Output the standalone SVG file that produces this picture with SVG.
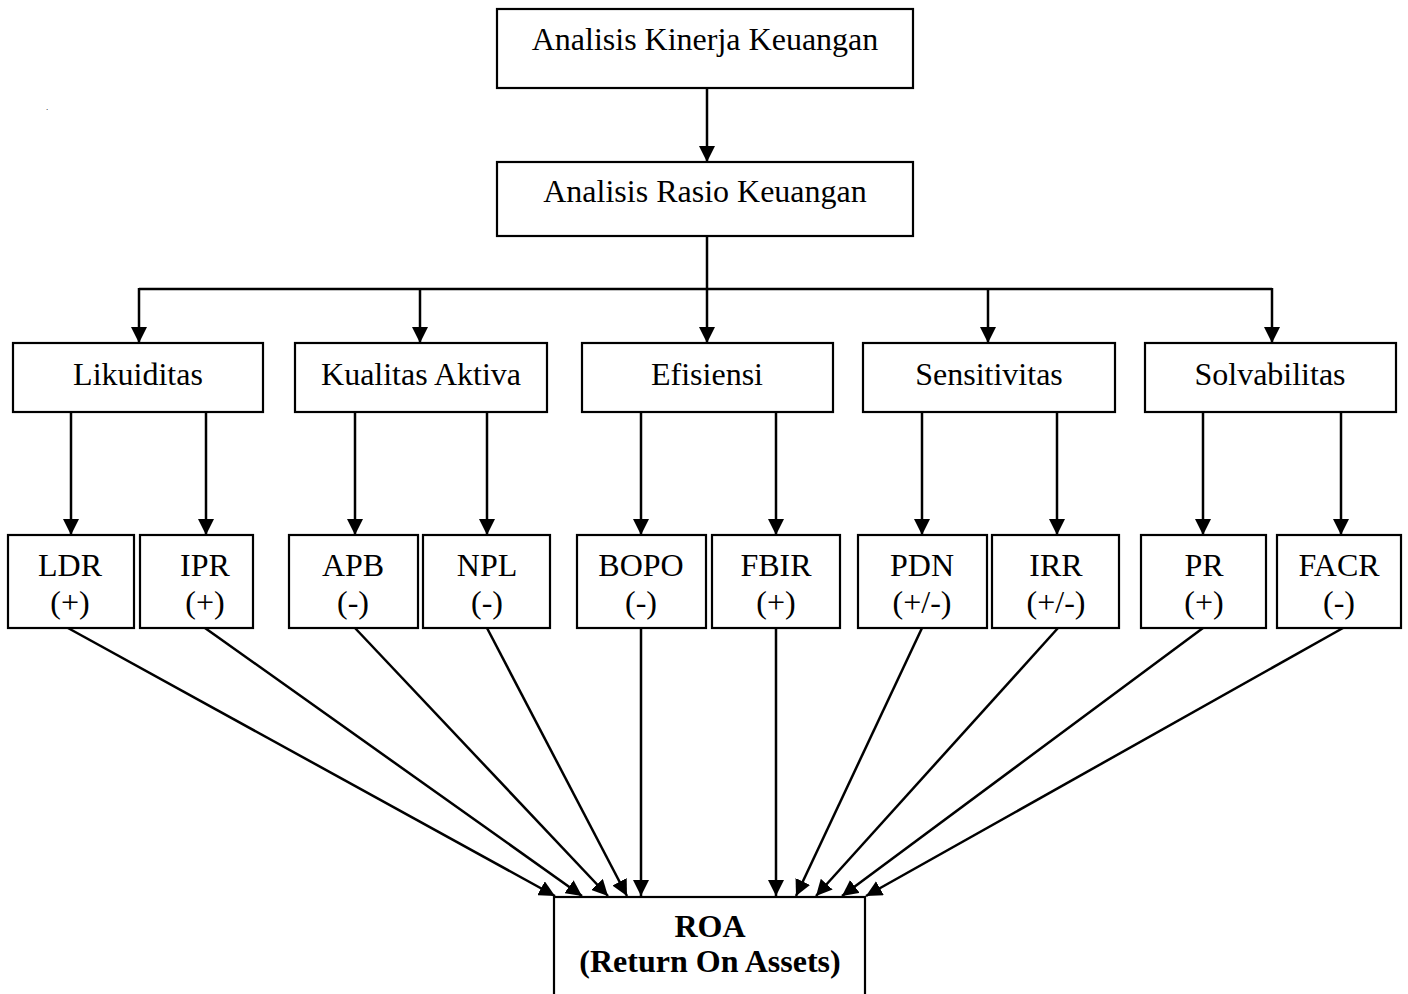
<svg xmlns="http://www.w3.org/2000/svg" width="1408" height="994" viewBox="0 0 1408 994">
<style>
.box{fill:#fff;stroke:#000;stroke-width:2.2}
.t{font-family:"Liberation Serif","Times New Roman",serif;font-size:32px;fill:#000;text-anchor:middle}
.b{font-weight:bold}
.c{fill:none;stroke:#000;stroke-width:2.5}
.a{fill:none;stroke:#000;stroke-width:2.5;marker-end:url(#ah)}
</style>
<defs>
<marker id="ah" markerUnits="userSpaceOnUse" markerWidth="17" markerHeight="16" refX="16" refY="8" orient="auto">
<path d="M0,0 L16,8 L0,16 z" fill="#000"/>
</marker>
</defs>
<rect width="1408" height="994" fill="#fff"/>
<text x="46" y="110" style="font-family:'Liberation Serif',serif;font-size:9px">.</text>
<g id="connectors">
<line class="a" x1="707" y1="88" x2="707" y2="162"/>
<polyline class="c" points="707,236 707,289"/>
<line class="c" x1="139" y1="289" x2="1272" y2="289"/>
<line class="a" x1="139" y1="288" x2="139" y2="343"/>
<line class="a" x1="420" y1="289" x2="420" y2="343"/>
<line class="a" x1="707" y1="289" x2="707" y2="343"/>
<line class="a" x1="988" y1="289" x2="988" y2="343"/>
<line class="a" x1="1272" y1="288" x2="1272" y2="343"/>
<line class="a" x1="71" y1="412" x2="71" y2="535"/>
<line class="a" x1="206" y1="412" x2="206" y2="535"/>
<line class="a" x1="355" y1="412" x2="355" y2="535"/>
<line class="a" x1="487" y1="412" x2="487" y2="535"/>
<line class="a" x1="641" y1="412" x2="641" y2="535"/>
<line class="a" x1="776" y1="412" x2="776" y2="535"/>
<line class="a" x1="922" y1="412" x2="922" y2="535"/>
<line class="a" x1="1057" y1="412" x2="1057" y2="535"/>
<line class="a" x1="1203" y1="412" x2="1203" y2="535"/>
<line class="a" x1="1341" y1="412" x2="1341" y2="535"/>
<line class="a" x1="68" y1="628" x2="555" y2="896"/>
<line class="a" x1="205" y1="628" x2="582" y2="896"/>
<line class="a" x1="355" y1="628" x2="608" y2="896"/>
<line class="a" x1="487" y1="628" x2="627" y2="896"/>
<line class="a" x1="641" y1="628" x2="641" y2="896"/>
<line class="a" x1="776" y1="628" x2="776" y2="896"/>
<line class="a" x1="922" y1="628" x2="796" y2="896"/>
<line class="a" x1="1058" y1="628" x2="816" y2="896"/>
<line class="a" x1="1203" y1="628" x2="842" y2="896"/>
<line class="a" x1="1343" y1="628" x2="866" y2="896"/>
</g>
<g id="kinerja"><rect class="box" x="497" y="9" width="416" height="79"/><text class="t" x="705" y="50">Analisis Kinerja Keuangan</text></g>
<g id="rasio"><rect class="box" x="497" y="162" width="416" height="74"/><text class="t" x="705" y="202">Analisis Rasio Keuangan</text></g>
<g id="likuiditas"><rect class="box" x="13" y="343" width="250" height="69"/><text class="t" x="138" y="385">Likuiditas</text></g>
<g id="kualitas"><rect class="box" x="295" y="343" width="252" height="69"/><text class="t" x="421" y="385">Kualitas Aktiva</text></g>
<g id="efisiensi"><rect class="box" x="582" y="343" width="251" height="69"/><text class="t" x="707" y="385">Efisiensi</text></g>
<g id="sensitivitas"><rect class="box" x="863" y="343" width="252" height="69"/><text class="t" x="989" y="385">Sensitivitas</text></g>
<g id="solvabilitas"><rect class="box" x="1145" y="343" width="251" height="69"/><text class="t" x="1270" y="385">Solvabilitas</text></g>
<g id="ldr"><rect class="box" x="8" y="535" width="126" height="93"/><text class="t" x="70" y="576">LDR</text><text class="t" x="70" y="613">(+)</text></g>
<g id="ipr"><rect class="box" x="140" y="535" width="113" height="93"/><text class="t" x="205" y="576">IPR</text><text class="t" x="205" y="613">(+)</text></g>
<g id="apb"><rect class="box" x="289" y="535" width="129" height="93"/><text class="t" x="353" y="576">APB</text><text class="t" x="353" y="613">(-)</text></g>
<g id="npl"><rect class="box" x="423" y="535" width="127" height="93"/><text class="t" x="487" y="576">NPL</text><text class="t" x="487" y="613">(-)</text></g>
<g id="bopo"><rect class="box" x="577" y="535" width="129" height="93"/><text class="t" x="641" y="576">BOPO</text><text class="t" x="641" y="613">(-)</text></g>
<g id="fbir"><rect class="box" x="712" y="535" width="128" height="93"/><text class="t" x="776" y="576">FBIR</text><text class="t" x="776" y="613">(+)</text></g>
<g id="pdn"><rect class="box" x="858" y="535" width="129" height="93"/><text class="t" x="922" y="576">PDN</text><text class="t" x="922" y="613">(+/-)</text></g>
<g id="irr"><rect class="box" x="992" y="535" width="127" height="93"/><text class="t" x="1056" y="576">IRR</text><text class="t" x="1056" y="613">(+/-)</text></g>
<g id="pr"><rect class="box" x="1141" y="535" width="125" height="93"/><text class="t" x="1204" y="576">PR</text><text class="t" x="1204" y="613">(+)</text></g>
<g id="facr"><rect class="box" x="1277" y="535" width="124" height="93"/><text class="t" x="1339" y="576">FACR</text><text class="t" x="1339" y="613">(-)</text></g>
<g id="roa"><rect class="box" x="554" y="897" width="311" height="110"/><text class="t b" x="710" y="937">ROA</text><text class="t b" x="710" y="972">(Return On Assets)</text></g>
</svg>
